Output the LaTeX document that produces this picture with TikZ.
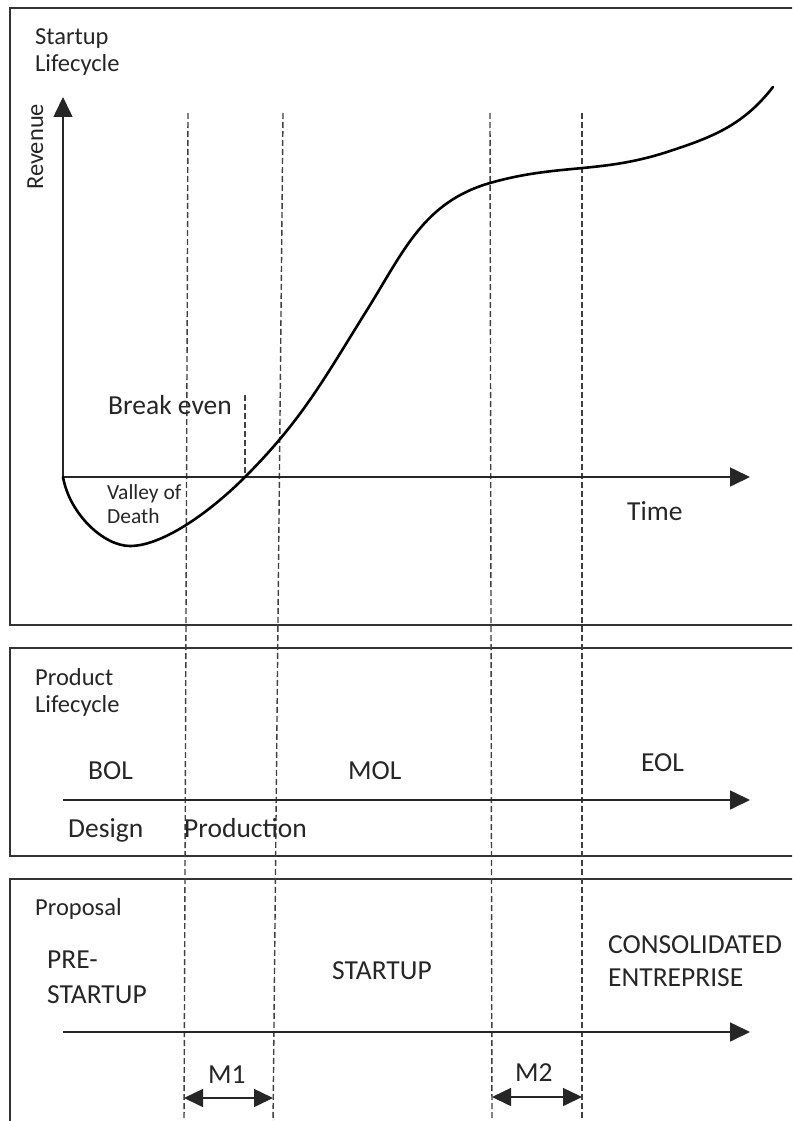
\documentclass[tikz,border=0pt]{standalone}
\usepackage{fontspec}
\setmainfont{Carlito}
\usetikzlibrary{arrows.meta}
\begin{document}
\begin{tikzpicture}[x=1pt,y=-1pt,
  frame/.style={draw=black!80,line width=1.3pt},
  axis/.style={draw=black!85,line width=1.6pt,-{Triangle[length=20pt,width=19pt]}},
  span/.style={draw=black!85,line width=1.6pt,{Triangle[length=19pt,width=18pt]}-{Triangle[length=19pt,width=18pt]}},
  guide/.style={draw=black!75,line width=1.4pt,dash pattern=on 6pt off 3pt},
  curve/.style={draw=black,line width=2.6pt,line cap=round},
  lbl/.style={anchor=base west,inner sep=0pt,text=black!85,font=\fontsize{27.5}{33}\selectfont},
  hdr/.style={anchor=base west,inner sep=0pt,text=black!85,font=\fontsize{24.5}{29}\selectfont},
  small/.style={anchor=base west,inner sep=0pt,text=black!85,font=\fontsize{21.5}{25}\selectfont}]
\useasboundingbox (0,0) rectangle (792,1121);
\clip (0,0) rectangle (792,1121);
\fill[white] (0,0) rectangle (792,1121);

% frames
\draw[frame] (10,8) rectangle (815,625);
\draw[frame] (10,648) rectangle (815,856);
\draw[frame] (10,879) rectangle (815,1140);

% coordinates
\coordinate (O) at (63,477);
\coordinate (Ytip) at (63,97);
\coordinate (Xtip) at (750,477);
\coordinate (P0) at (63,800);
\coordinate (P1) at (750,800);
\coordinate (Q0) at (63,1032);
\coordinate (Q1) at (750,1032);
\coordinate (Gt1) at (188,113); \coordinate (Gb1) at (184,1125);
\coordinate (Gt2) at (283,113); \coordinate (Gb2) at (273,1125);
\coordinate (Gt3) at (490,113); \coordinate (Gb3) at (492,1125);
\coordinate (Gt4) at (582,113); \coordinate (Gb4) at (582,1125);
\coordinate (BEt) at (245,395); \coordinate (BEb) at (245,477);
\coordinate (M1a) at (184,1098); \coordinate (M1b) at (273,1098);
\coordinate (M2a) at (492,1097); \coordinate (M2b) at (582,1097);

% guides
\draw[guide] (Gt1) -- (Gb1);
\draw[guide] (Gt2) -- (Gb2);
\draw[guide] (Gt3) -- (Gb3);
\draw[guide] (Gt4) -- (Gb4);
\draw[guide] (BEt) -- (BEb);

% axes
\draw[axis] (O) -- (Ytip);
\draw[axis] (O) -- (Xtip);
\draw[axis] (P0) -- (P1);
\draw[axis] (Q0) -- (Q1);

% revenue curve
\draw[curve] (63,477) to[out=-80,in=180,in looseness=0.7] (130,546)
  to[out=0,in=225,out looseness=0.6] (245,477)
  to[out=45,in=238] (367,310)
  to[out=58,in=196] (490,183)
  to[out=16,in=198] (667,152)
  to[out=18,in=232] (773,87);

% span arrows
\draw[span] (M1a) -- (M1b);
\draw[span] (M2a) -- (M2b);

% texts: startup lifecycle
\node[hdr] (sl1) at (35,45) {Startup};
\node[hdr] (sl2) at (35,72) {Lifecycle};
\node[hdr,rotate=90] (rev) at (43,190) {Revenue};
\node[lbl] (be) at (108,414) {Break even};
\node[small] (vd1) at (107,499) {Valley of};
\node[small] (vd2) at (107,523) {Death};
\node[lbl] (time) at (627,520) {Time};

% product lifecycle
\node[hdr] (pl1) at (35,685) {Product};
\node[hdr] (pl2) at (35,712) {Lifecycle};
\node[lbl] (bol) at (88,779) {BOL};
\node[lbl] (mol) at (348,779) {MOL};
\node[lbl] (eol) at (641,771) {EOL};
\node[lbl] (des) at (68,837) {Design};
\node[lbl] (prod) at (184,837) {Production};

% proposal
\node[hdr] (prop) at (35,915) {Proposal};
\node[lbl] (pre1) at (47,968) {PRE-};
\node[lbl] (pre2) at (47,1003) {STARTUP};
\node[lbl] (st) at (332,979) {STARTUP};
\node[lbl] (ce1) at (608,953) {CONSOLIDATED};
\node[lbl] (ce2) at (608,986) {ENTREPRISE};
\node[lbl] (m1) at (208,1083) {M1};
\node[lbl] (m2) at (515,1081) {M2};
\end{tikzpicture}
\end{document}
